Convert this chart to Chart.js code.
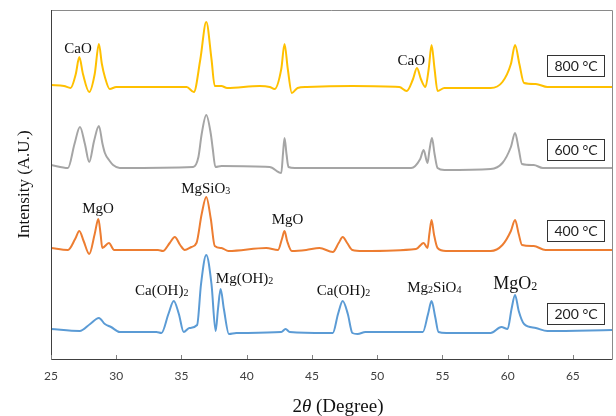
<!DOCTYPE html>
<html>
<head>
<meta charset="utf-8">
<script src="https://cdn.jsdelivr.net/npm/chart.js@4.4.1/dist/chart.umd.min.js"></script>
<style>
  body { margin: 0; background: #fff; }
</style>
</head>
<body>
<canvas id="xrd" width="616" height="416"></canvas>
<script>
// 2θ (degree) and intensity (a.u., curves already offset)
const theta800 = [25.0, 26.0, 26.5, 26.9, 27.17, 27.45, 27.93, 28.35, 28.67, 28.9, 29.13, 29.5, 30.0, 35.4, 35.95, 36.45, 36.9, 37.3, 37.55, 38.06, 38.5, 41.0, 41.76, 42.14, 42.65, 42.9, 43.15, 43.46, 43.9, 44.6, 48.1, 51.7, 52.26, 52.75, 53.05, 53.35, 53.7, 53.95, 54.17, 54.4, 54.63, 55.15, 58.7, 59.6, 60.25, 60.57, 60.9, 61.26, 62.16, 63.05, 68.0];
const int800 = [274, 273, 271, 285, 302, 285, 267, 285, 315, 295, 282, 270, 272, 272, 267, 300, 337, 300, 273, 273, 271, 273, 272, 270, 290, 315, 290, 266, 271, 272, 273, 272, 268, 280, 291, 280, 272, 290, 314, 290, 268, 271, 271, 277, 295, 314, 295, 276, 275, 272, 272];

const theta600 = [25.0, 26.3, 26.8, 27.22, 27.6, 27.93, 28.3, 28.67, 28.95, 29.13, 29.5, 29.76, 30.27, 35.9, 36.3, 36.55, 36.9, 37.25, 37.4, 37.6, 38.06, 41.76, 42.65, 42.78, 42.9, 43.05, 43.2, 43.7, 52.6, 53.3, 53.56, 53.86, 54.0, 54.2, 54.4, 54.63, 55.15, 58.7, 59.6, 60.25, 60.57, 60.85, 61.1, 62.0, 62.7, 68.0];
const int600 = [194, 191, 215, 232, 215, 197, 218, 233, 215, 206, 198, 194, 191, 192, 202, 225, 244, 225, 210, 192, 193, 192, 186, 205, 221, 205, 192, 191, 191, 200, 209, 196, 208, 221, 205, 191, 189, 190, 196, 212, 226, 210, 195, 194, 191, 191];

const theta400 = [25.0, 26.3, 26.85, 27.17, 27.5, 27.93, 28.35, 28.63, 28.8, 28.93, 29.44, 29.84, 30.27, 33.2, 33.58, 34.1, 34.49, 34.9, 35.25, 35.76, 36.15, 36.55, 36.9, 37.25, 37.55, 38.06, 38.6, 41.5, 42.4, 42.7, 42.9, 43.1, 43.46, 44.56, 45.58, 46.6, 47.05, 47.36, 47.7, 48.1, 48.9, 52.98, 53.56, 53.86, 54.0, 54.17, 54.35, 54.63, 55.27, 58.7, 59.6, 60.25, 60.57, 60.85, 61.1, 62.0, 62.9, 68.0];
const int400 = [111, 109, 120, 128, 118, 105, 125, 140, 125, 111, 116, 109, 109, 109, 108, 116, 122, 114, 109, 112, 116, 145, 162, 140, 113, 111, 108, 111, 109, 120, 128, 118, 108, 109, 111, 107, 116, 122, 116, 109, 108, 110, 116, 111, 125, 139, 125, 111, 108, 108, 114, 128, 139, 125, 114, 113, 109, 109];

const theta200 = [25.0, 27.2, 28.0, 28.67, 29.13, 29.6, 30.27, 33.08, 33.47, 34.0, 34.41, 34.8, 35.17, 35.6, 36.2, 36.5, 36.9, 37.3, 37.62, 37.8, 38.0, 38.25, 38.64, 39.2, 42.65, 42.98, 43.3, 46.1, 46.6, 47.0, 47.36, 47.75, 48.1, 48.5, 49.1, 53.5, 53.9, 54.17, 54.45, 54.7, 55.3, 58.7, 59.52, 60.0, 60.3, 60.57, 60.85, 61.26, 62.16, 63.05, 68.0];
const int200 = [30, 28, 35, 41, 35, 32, 27, 27, 26, 45, 58, 45, 27, 31, 34, 75, 104, 75, 28, 50, 70, 50, 25, 26, 27, 30, 27, 26, 26, 45, 58, 45, 26, 25, 27, 27, 45, 58, 42, 27, 26, 26, 32, 30, 50, 64, 48, 35, 31, 28, 29];

const xTicks = [25, 30, 35, 40, 45, 50, 55, 60, 65];
const tempLabels = ['800 °C', '600 °C', '400 °C', '200 °C'];

// phase labels (digits are drawn as subscripts)
const phaseNames = ['CaO', 'CaO', 'MgSiO3', 'MgO', 'MgO', 'Ca(OH)2', 'Mg(OH)2', 'Ca(OH)2', 'Mg2SiO4', 'MgO2'];
const phaseX = [27.07, 52.62, 36.86, 28.6, 43.13, 33.49, 39.84, 47.42, 54.38, 60.58];
const phaseY = [311, 299, 171, 151, 140, 69, 81, 69, 72, 76];

function pts(xs, ys) {
  return xs.map((x, i) => ({ x: x, y: ys[i] }));
}

function drawFormula(ctx, text, cx, cy, size) {
  const parts = text.match(/\d+|\D+/g);
  const sub = Math.round(size * 0.68);
  const fontOf = p => (/\d/.test(p) ? sub : size) + 'px "Liberation Serif"';
  let total = 0;
  parts.forEach(p => { ctx.font = fontOf(p); total += ctx.measureText(p).width; });
  let x = cx - total / 2;
  const base = cy + size * 0.33;
  ctx.textAlign = 'left';
  ctx.textBaseline = 'alphabetic';
  parts.forEach(p => {
    ctx.font = fontOf(p);
    ctx.fillText(p, x, base + (/\d/.test(p) ? size * 0.06 : 0));
    x += ctx.measureText(p).width;
  });
}

const decorations = {
  id: 'decorations',
  afterDatasetsDraw(chart) {
    const { ctx, chartArea: a, scales: { x, y } } = chart;
    ctx.save();

    // frame
    ctx.lineWidth = 1;
    ctx.strokeStyle = '#8a8a8a';
    ctx.beginPath();
    ctx.moveTo(a.left, a.top + 0.5); ctx.lineTo(a.right + 0.5, a.top + 0.5); ctx.lineTo(a.right + 0.5, a.bottom);
    ctx.stroke();
    ctx.strokeStyle = '#404040';
    ctx.beginPath();
    ctx.moveTo(a.left + 0.5, a.top); ctx.lineTo(a.left + 0.5, a.bottom + 0.5); ctx.lineTo(a.right + 0.5, a.bottom + 0.5);
    ctx.stroke();

    // small inward tick marks
    ctx.strokeStyle = '#808080';
    xTicks.forEach(v => {
      const px = Math.round(x.getPixelForValue(v)) + 0.5;
      ctx.beginPath();
      ctx.moveTo(px, a.bottom);
      ctx.lineTo(px, a.bottom - 4);
      ctx.stroke();
    });

    // phase labels
    ctx.fillStyle = '#111';
    phaseNames.forEach((name, i) => {
      const size = name === 'MgO2' ? 18 : 15;
      drawFormula(ctx, name, x.getPixelForValue(phaseX[i]), y.getPixelForValue(phaseY[i]), size);
    });

    // temperature boxes
    const boxY = [294, 210, 129, 46];
    ctx.font = '14px Lato';
    ctx.textAlign = 'center';
    ctx.textBaseline = 'middle';
    tempLabels.forEach((t, i) => {
      const cy = Math.round(y.getPixelForValue(boxY[i]));
      const left = Math.round(a.right - 65);
      ctx.fillStyle = '#fff';
      ctx.fillRect(left, cy - 10, 57, 21);
      ctx.strokeStyle = '#333';
      ctx.strokeRect(left + 0.5, cy - 10 + 0.5, 57, 21);
      ctx.fillStyle = '#222';
      ctx.fillText(t, left + 29, cy + 1);
    });

    // y title
    ctx.save();
    ctx.translate(25, (a.top + a.bottom) / 2);
    ctx.rotate(-Math.PI / 2);
    ctx.font = '17px "Liberation Serif"';
    ctx.fillStyle = '#111';
    ctx.fillText('Intensity (A.U.)', 0, 0);
    ctx.restore();

    // x title with italic theta
    const segs = [['2', '19px "Liberation Serif"'], ['θ', 'italic 19px "Liberation Serif"'], [' (Degree)', '19px "Liberation Serif"']];
    let w = 0;
    segs.forEach(s => { ctx.font = s[1]; w += ctx.measureText(s[0]).width; });
    let tx = 338 - w / 2;
    ctx.textAlign = 'left';
    ctx.textBaseline = 'alphabetic';
    ctx.fillStyle = '#111';
    segs.forEach(s => { ctx.font = s[1]; ctx.fillText(s[0], tx, 412); tx += ctx.measureText(s[0]).width; });

    ctx.restore();
  }
};

const line = (data, color) => ({
  data: data,
  borderColor: color,
  borderWidth: 2,
  pointRadius: 0,
  fill: false,
  cubicInterpolationMode: 'monotone'
});

new Chart(document.getElementById('xrd'), {
  type: 'line',
  data: {
    datasets: [
      line(pts(theta800, int800), '#FFC000'),
      line(pts(theta600, int600), '#A5A5A5'),
      line(pts(theta400, int400), '#ED7D31'),
      line(pts(theta200, int200), '#5B9BD5')
    ]
  },
  options: {
    responsive: false,
    animation: false,
    layout: { padding: { left: 51, right: 4, top: 10, bottom: 22.6 } },
    plugins: {
      legend: { display: false },
      tooltip: { enabled: false }
    },
    scales: {
      x: {
        type: 'linear',
        min: 25,
        max: 68,
        afterBuildTicks: s => { s.ticks = xTicks.map(v => ({ value: v })); },
        grid: { display: false, drawTicks: false },
        border: { display: false },
        ticks: { padding: 10, color: '#404040', font: { family: 'Lato', size: 12 } }
      },
      y: {
        display: false,
        min: 0,
        max: 349
      }
    }
  },
  plugins: [decorations]
});
</script>
</body>
</html>
